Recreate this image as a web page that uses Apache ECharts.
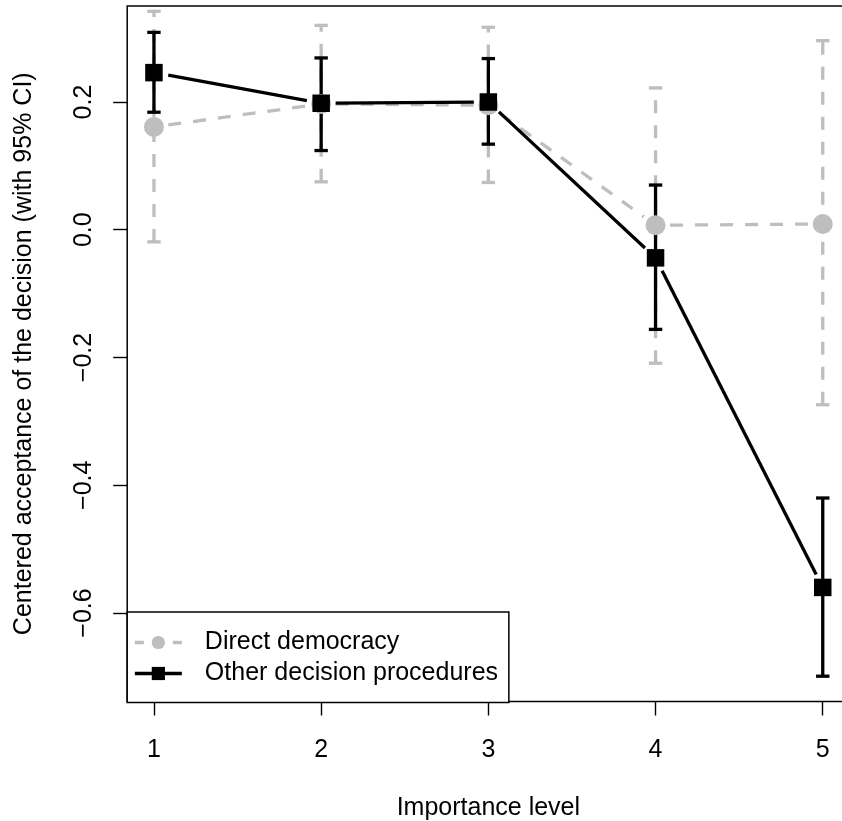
<!DOCTYPE html>
<html><head><meta charset="utf-8">
<script src="https://cdn.jsdelivr.net/npm/echarts@6/dist/echarts.min.js"></script>
<style>html,body{margin:0;padding:0;background:#fff}#c{width:842px;height:821px}</style>
</head><body><div id="c"></div>
<script>
// ---- data ----
const importance = [1, 2, 3, 4, 5];
const ddMean  = [0.161, 0.197, 0.195, 0.007, 0.009];
const ddLower = [-0.019, 0.075, 0.074, -0.209, -0.274];
const ddUpper = [0.342, 0.320, 0.317, 0.222, 0.296];
const otherMean  = [0.246, 0.198, 0.200, -0.044, -0.560];
const otherLower = [0.184, 0.124, 0.134, -0.156, -0.699];
const otherUpper = [0.309, 0.269, 0.268, 0.070, -0.420];
const yTicks = [-0.6, -0.4, -0.2, 0, 0.2];
const xTicks = [1, 2, 3, 4, 5];
const seriesNames = ['Direct democracy', 'Other decision procedures'];

// ---- style ----
const GRAY = '#BEBEBE';
const BLACK = '#000000';
const FONT = '"Liberation Sans", Arial, Helvetica, sans-serif';
const GAP = 14.5;
const LW = 3.3;

function segData(mean) {
  const out = [];
  for (let i = 0; i < importance.length - 1; i++) out.push([importance[i], mean[i], importance[i + 1], mean[i + 1]]);
  return out;
}
function ciData(lo, hi) { return importance.map((x, i) => [x, lo[i], hi[i]]); }
function pointData(mean) { return importance.map((x, i) => [x, mean[i]]); }

function lineRender(color, dash) {
  return function (params, api) {
    const a = api.coord([api.value(0), api.value(1)]);
    const b = api.coord([api.value(2), api.value(3)]);
    const dx = b[0] - a[0], dy = b[1] - a[1];
    const L = Math.hypot(dx, dy);
    if (L <= 2 * GAP) return null;
    const ux = dx / L, uy = dy / L;
    return {
      type: 'line',
      shape: { x1: a[0] + ux * GAP, y1: a[1] + uy * GAP, x2: b[0] - ux * GAP, y2: b[1] - uy * GAP },
      style: { stroke: color, lineWidth: LW, lineDash: dash, fill: null }
    };
  };
}
function ciRender(color, dash) {
  return function (params, api) {
    const lo = api.coord([api.value(0), api.value(1)]);
    const hi = api.coord([api.value(0), api.value(2)]);
    const hw = 6.7;
    return {
      type: 'group',
      children: [
        { type: 'line', shape: { x1: lo[0], y1: lo[1], x2: hi[0], y2: hi[1] }, style: { stroke: color, lineWidth: LW, lineDash: dash } },
        { type: 'line', shape: { x1: lo[0] - hw, y1: lo[1], x2: lo[0] + hw, y2: lo[1] }, style: { stroke: color, lineWidth: LW } },
        { type: 'line', shape: { x1: hi[0] - hw, y1: hi[1], x2: hi[0] + hw, y2: hi[1] }, style: { stroke: color, lineWidth: LW } }
      ]
    };
  };
}

function fmt(v) {
  const s = Math.abs(v).toFixed(1);
  return (v < -1e-9 ? '\u2212' : '') + s;
}

const chart = echarts.init(document.getElementById('c'), null, { renderer: 'canvas' });
chart.setOption({
  animation: false,
  backgroundColor: '#ffffff',
  textStyle: { fontFamily: FONT, color: BLACK },
  grid: {
    left: 127.2, top: 6, width: 722.3, height: 695.5,
    show: true, borderColor: BLACK, borderWidth: 1.5, backgroundColor: 'transparent',
    containLabel: false, outerBoundsMode: 'none'
  },
  xAxis: {
    type: 'value', min: 0.84, max: 5.16,
    name: 'Importance level', nameLocation: 'middle', nameGap: 94,
    nameTextStyle: { fontSize: 25, color: BLACK, fontFamily: FONT },
    axisLine: { show: false, onZero: false },
    splitLine: { show: false },
    axisTick: { show: true, length: 14, inside: false, lineStyle: { color: BLACK, width: 1.4 }, customValues: xTicks },
    axisLabel: { show: true, margin: 36, fontSize: 25, color: BLACK, fontFamily: FONT, customValues: xTicks,
      formatter: v => String(Math.round(v)) }
  },
  yAxis: {
    type: 'value', min: -0.7386, max: 0.3503,
    name: 'Centered acceptance of the decision (with 95% CI)', nameLocation: 'middle', nameRotate: 90, nameGap: 91,
    nameTextStyle: { fontSize: 25, color: BLACK, fontFamily: FONT },
    axisLine: { show: false, onZero: false },
    splitLine: { show: false },
    axisTick: { show: true, length: 14, inside: false, lineStyle: { color: BLACK, width: 1.4 }, customValues: yTicks },
    axisLabel: { show: true, margin: 31, rotate: 90, fontSize: 25, color: BLACK, fontFamily: FONT, customValues: yTicks,
      formatter: fmt }
  },
  legend: {
    show: true, orient: 'vertical', left: 127.2, top: 612,
    padding: [18, 10.8, 16.5, 6], itemGap: 6,
    itemWidth: 47, itemHeight: 16.5,
    backgroundColor: '#ffffff', borderColor: BLACK, borderWidth: 1.5, borderRadius: 0,
    selectedMode: false,
    textStyle: { fontSize: 25, color: BLACK, fontFamily: FONT, padding: [0, 0, 0, 18] },
    data: [
      { name: seriesNames[0], lineStyle: { width: LW, type: [9, 10], color: GRAY, opacity: 1 } },
      { name: seriesNames[1], lineStyle: { width: LW, type: 'solid', color: BLACK, opacity: 1 } }
    ]
  },
  series: [
    { type: 'custom', name: 'dd-lines', silent: true, data: segData(ddMean),
      renderItem: lineRender(GRAY, [13, 12]), encode: { x: [0, 2], y: [1, 3] } },
    { type: 'custom', name: 'dd-ci', silent: true, data: ciData(ddLower, ddUpper),
      renderItem: ciRender(GRAY, [13, 12]), encode: { x: 0, y: [1, 2] } },
    { type: 'line', name: seriesNames[0], silent: true, data: pointData(ddMean),
      symbol: 'circle', symbolSize: 20, showSymbol: true, showAllSymbol: true,
      itemStyle: { color: GRAY, borderWidth: 0 },
      lineStyle: { color: GRAY, width: 0, opacity: 0, type: [13, 12] } },
    { type: 'custom', name: 'other-lines', silent: true, data: segData(otherMean),
      renderItem: lineRender(BLACK, null), encode: { x: [0, 2], y: [1, 3] } },
    { type: 'custom', name: 'other-ci', silent: true, data: ciData(otherLower, otherUpper),
      renderItem: ciRender(BLACK, null), encode: { x: 0, y: [1, 2] } },
    { type: 'line', name: seriesNames[1], silent: true, data: pointData(otherMean),
      symbol: 'rect', symbolSize: 17.5, showSymbol: true, showAllSymbol: true,
      itemStyle: { color: BLACK, borderWidth: 0 },
      lineStyle: { color: BLACK, width: 0, opacity: 0 } }
  ]
});
</script>
</body></html>
